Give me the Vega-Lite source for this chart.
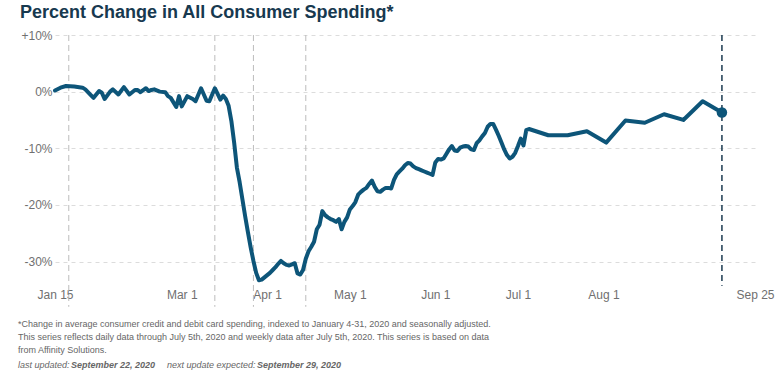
{
  "$schema": "https://vega.github.io/schema/vega-lite/v6.json",
  "background": "white",
  "padding": {"left": 3, "right": 5, "top": 4, "bottom": 0},
  "config": {
    "font": "Liberation Sans",
    "view": {"stroke": null},
    "axis": {"domain": false, "ticks": false, "labelColor": "#707070", "labelFontSize": 12, "labelFont": "Liberation Sans", "title": null},
    "title": {"font": "Liberation Sans"}
  },
  "datasets": {
    "spend": [
      {"date": "2020-01-15", "value": 0.2}, {"date": "2020-01-17", "value": 0.7}, {"date": "2020-01-19", "value": 1.0},
      {"date": "2020-01-22", "value": 0.9}, {"date": "2020-01-25", "value": 0.7}, {"date": "2020-01-26", "value": 0.4},
      {"date": "2020-01-28", "value": -0.6}, {"date": "2020-01-29", "value": -1.1}, {"date": "2020-01-31", "value": 0.1},
      {"date": "2020-02-01", "value": -0.2}, {"date": "2020-02-02", "value": -1.3}, {"date": "2020-02-04", "value": 0.0},
      {"date": "2020-02-05", "value": 0.4}, {"date": "2020-02-07", "value": -0.5}, {"date": "2020-02-09", "value": 0.8},
      {"date": "2020-02-11", "value": -0.5}, {"date": "2020-02-13", "value": 0.3}, {"date": "2020-02-14", "value": 0.3},
      {"date": "2020-02-15", "value": -0.1}, {"date": "2020-02-17", "value": 0.6}, {"date": "2020-02-18", "value": 0.1},
      {"date": "2020-02-19", "value": 0.3}, {"date": "2020-02-20", "value": 0.4}, {"date": "2020-02-22", "value": 0.0},
      {"date": "2020-02-24", "value": -0.1}, {"date": "2020-02-25", "value": -0.8}, {"date": "2020-02-26", "value": -1.1},
      {"date": "2020-02-28", "value": -2.7}, {"date": "2020-02-29", "value": -0.8}, {"date": "2020-03-01", "value": -2.6},
      {"date": "2020-03-03", "value": -0.8}, {"date": "2020-03-05", "value": -1.3}, {"date": "2020-03-06", "value": -1.7},
      {"date": "2020-03-08", "value": 0.6}, {"date": "2020-03-10", "value": -1.6}, {"date": "2020-03-11", "value": -1.7},
      {"date": "2020-03-13", "value": 0.6}, {"date": "2020-03-15", "value": -1.4}, {"date": "2020-03-16", "value": -0.7},
      {"date": "2020-03-17", "value": -1.3}, {"date": "2020-03-18", "value": -2.5}, {"date": "2020-03-19", "value": -5.2},
      {"date": "2020-03-20", "value": -9.0}, {"date": "2020-03-21", "value": -13.4}, {"date": "2020-03-22", "value": -16.0},
      {"date": "2020-03-23", "value": -19.0}, {"date": "2020-03-24", "value": -22.0}, {"date": "2020-03-25", "value": -24.8},
      {"date": "2020-03-26", "value": -27.5}, {"date": "2020-03-27", "value": -29.9}, {"date": "2020-03-28", "value": -32.0},
      {"date": "2020-03-29", "value": -33.3}, {"date": "2020-03-30", "value": -33.2}, {"date": "2020-03-31", "value": -32.8},
      {"date": "2020-04-01", "value": -32.4}, {"date": "2020-04-02", "value": -32.0}, {"date": "2020-04-03", "value": -31.5},
      {"date": "2020-04-04", "value": -31.0}, {"date": "2020-04-05", "value": -30.4}, {"date": "2020-04-06", "value": -29.9},
      {"date": "2020-04-07", "value": -30.3}, {"date": "2020-04-08", "value": -30.6}, {"date": "2020-04-09", "value": -30.7},
      {"date": "2020-04-10", "value": -30.5}, {"date": "2020-04-11", "value": -30.3}, {"date": "2020-04-12", "value": -32.1},
      {"date": "2020-04-13", "value": -32.3}, {"date": "2020-04-14", "value": -31.5}, {"date": "2020-04-15", "value": -29.5},
      {"date": "2020-04-16", "value": -28.2}, {"date": "2020-04-17", "value": -27.4}, {"date": "2020-04-18", "value": -26.5},
      {"date": "2020-04-19", "value": -24.3}, {"date": "2020-04-20", "value": -23.5}, {"date": "2020-04-21", "value": -21.1},
      {"date": "2020-04-22", "value": -21.8}, {"date": "2020-04-23", "value": -22.2}, {"date": "2020-04-24", "value": -22.5},
      {"date": "2020-04-25", "value": -22.7}, {"date": "2020-04-26", "value": -23.0}, {"date": "2020-04-27", "value": -22.5},
      {"date": "2020-04-28", "value": -24.3}, {"date": "2020-04-29", "value": -23.0}, {"date": "2020-04-30", "value": -22.2},
      {"date": "2020-05-01", "value": -20.8}, {"date": "2020-05-02", "value": -20.2}, {"date": "2020-05-03", "value": -19.5},
      {"date": "2020-05-04", "value": -18.2}, {"date": "2020-05-05", "value": -17.7}, {"date": "2020-05-06", "value": -17.3},
      {"date": "2020-05-07", "value": -17.0}, {"date": "2020-05-08", "value": -16.3}, {"date": "2020-05-09", "value": -15.7},
      {"date": "2020-05-10", "value": -16.8}, {"date": "2020-05-11", "value": -17.6}, {"date": "2020-05-12", "value": -17.7},
      {"date": "2020-05-13", "value": -17.3}, {"date": "2020-05-14", "value": -17.0}, {"date": "2020-05-15", "value": -17.0},
      {"date": "2020-05-16", "value": -17.1}, {"date": "2020-05-17", "value": -15.6}, {"date": "2020-05-18", "value": -14.6},
      {"date": "2020-05-19", "value": -14.1}, {"date": "2020-05-20", "value": -13.6}, {"date": "2020-05-21", "value": -13.0},
      {"date": "2020-05-22", "value": -12.6}, {"date": "2020-05-23", "value": -12.7}, {"date": "2020-05-24", "value": -13.2},
      {"date": "2020-05-25", "value": -13.5}, {"date": "2020-05-26", "value": -13.7}, {"date": "2020-05-27", "value": -13.9},
      {"date": "2020-05-28", "value": -14.1}, {"date": "2020-05-29", "value": -14.3}, {"date": "2020-05-30", "value": -14.5},
      {"date": "2020-05-31", "value": -14.7}, {"date": "2020-06-01", "value": -12.5}, {"date": "2020-06-02", "value": -11.9},
      {"date": "2020-06-03", "value": -12.0}, {"date": "2020-06-04", "value": -11.8}, {"date": "2020-06-05", "value": -11.0},
      {"date": "2020-06-06", "value": -10.2}, {"date": "2020-06-07", "value": -9.6}, {"date": "2020-06-08", "value": -10.4},
      {"date": "2020-06-09", "value": -10.5}, {"date": "2020-06-10", "value": -9.9}, {"date": "2020-06-11", "value": -9.7},
      {"date": "2020-06-12", "value": -9.6}, {"date": "2020-06-13", "value": -9.7}, {"date": "2020-06-14", "value": -10.2},
      {"date": "2020-06-15", "value": -10.3}, {"date": "2020-06-16", "value": -9.1}, {"date": "2020-06-17", "value": -8.6},
      {"date": "2020-06-18", "value": -7.9}, {"date": "2020-06-19", "value": -7.3}, {"date": "2020-06-20", "value": -6.2},
      {"date": "2020-06-21", "value": -5.7}, {"date": "2020-06-22", "value": -5.7}, {"date": "2020-06-23", "value": -6.7},
      {"date": "2020-06-24", "value": -7.8}, {"date": "2020-06-25", "value": -9.0}, {"date": "2020-06-26", "value": -10.2},
      {"date": "2020-06-27", "value": -11.2}, {"date": "2020-06-28", "value": -11.8}, {"date": "2020-06-29", "value": -11.5},
      {"date": "2020-06-30", "value": -10.8}, {"date": "2020-07-01", "value": -9.6}, {"date": "2020-07-02", "value": -8.3},
      {"date": "2020-07-03", "value": -9.5}, {"date": "2020-07-04", "value": -6.8}, {"date": "2020-07-05", "value": -6.6},
      {"date": "2020-07-12", "value": -7.7}, {"date": "2020-07-19", "value": -7.7}, {"date": "2020-07-26", "value": -7.0},
      {"date": "2020-08-02", "value": -9.0}, {"date": "2020-08-09", "value": -5.1}, {"date": "2020-08-16", "value": -5.5},
      {"date": "2020-08-23", "value": -4.0}, {"date": "2020-08-30", "value": -5.0}, {"date": "2020-09-06", "value": -1.7},
      {"date": "2020-09-13", "value": -3.7}
    ],
    "events": [
      {"date": "2020-01-20"}, {"date": "2020-03-13"}, {"date": "2020-03-27"}, {"date": "2020-04-15"}
    ],
    "latest": [
      {"date": "2020-09-13", "value": -3.7}
    ]
  },
  "spacing": 12,
  "vconcat": [
    {
      "title": {"text": "Percent Change in All Consumer Spending*", "fontSize": 18, "fontWeight": "bold", "color": "#17394f", "anchor": "start", "frame": "bounds", "dx": 17, "offset": 7},
      "width": 700,
      "height": 252,
      "layer": [
        {
          "data": {"name": "events"},
          "mark": {"type": "rule", "color": "#bdbdbd", "strokeWidth": 1, "strokeDash": [6, 4]},
          "encoding": {
            "x": {"field": "date", "type": "temporal",
              "scale": {"type": "utc", "domain": [{"year": 2020, "month": 1, "date": 15, "utc": true}, {"year": 2020, "month": 9, "date": 25, "utc": true}]},
              "axis": {"values": [
                {"year": 2020, "month": 1, "date": 15, "utc": true},
                {"year": 2020, "month": 3, "date": 1, "utc": true},
                {"year": 2020, "month": 4, "date": 1, "utc": true},
                {"year": 2020, "month": 5, "date": 1, "utc": true},
                {"year": 2020, "month": 6, "date": 1, "utc": true},
                {"year": 2020, "month": 7, "date": 1, "utc": true},
                {"year": 2020, "month": 8, "date": 1, "utc": true},
                {"year": 2020, "month": 9, "date": 25, "utc": true}
              ], "labelExpr": "utcFormat(datum.value, '%b %-d')", "labelPadding": 2, "grid": false, "labelFlush": false, "labelOverlap": false, "title": null}},
            "y": {"datum": 10, "type": "quantitative",
              "scale": {"domain": [-34.5, 10], "nice": false, "zero": false},
              "axis": {"values": [-30, -20, -10, 0, 10], "labelExpr": "datum.value > 0 ? '+' + datum.value + '%' : datum.value + '%'", "grid": true, "gridDash": [4, 4], "gridColor": "#dcdcdc", "labelPadding": 3, "minExtent": 52, "maxExtent": 52, "title": null}},
            "y2": {"datum": -38}
          }
        },
        {
          "data": {"name": "spend"},
          "mark": {"type": "line", "color": "#0d5579", "strokeWidth": 4, "strokeJoin": "round", "strokeCap": "round"},
          "encoding": {
            "x": {"field": "date", "type": "temporal"},
            "y": {"field": "value", "type": "quantitative"}
          }
        },
        {
          "data": {"name": "latest"},
          "mark": {"type": "rule", "color": "#1b3a50", "strokeWidth": 1.5, "strokeDash": [6, 4]},
          "encoding": {
            "x": {"field": "date", "type": "temporal"},
            "y": {"datum": 10, "type": "quantitative"},
            "y2": {"datum": -34.3}
          }
        },
        {
          "data": {"name": "latest"},
          "mark": {"type": "point", "filled": true, "opacity": 1, "size": 110, "color": "#0d5579"},
          "encoding": {
            "x": {"field": "date", "type": "temporal"},
            "y": {"field": "value", "type": "quantitative"}
          }
        }
      ]
    },
    {
      "spacing": 0,
      "vconcat": [
        {
          "width": 700,
          "height": 1,
          "data": {"values": []},
          "mark": "text",
          "title": {
            "text": [
              "*Change in average consumer credit and debit card spending, indexed to January 4-31, 2020 and seasonally adjusted.",
              "This series reflects daily data through July 5th, 2020 and weekly data after July 5th, 2020. This series is based on data",
              "from Affinity Solutions."
            ],
            "fontSize": 9, "fontWeight": "normal", "color": "#666666", "anchor": "start", "frame": "bounds", "dx": -37, "lineHeight": 13, "offset": 5
          }
        },
        {
          "spacing": 1,
          "hconcat": [
            {"width": 1, "height": 1, "data": {"values": []}, "mark": "text",
             "title": {"text": "last updated:", "fontSize": 9, "fontWeight": "normal", "fontStyle": "italic", "color": "#666666", "anchor": "start", "frame": "bounds", "dx": -37}},
            {"width": 1, "height": 1, "data": {"values": []}, "mark": "text",
             "title": {"text": "September 22, 2020", "fontSize": 9, "fontWeight": "bold", "fontStyle": "italic", "color": "#666666", "anchor": "start", "frame": "bounds"}},
            {"width": 1, "height": 1, "data": {"values": []}, "mark": "text",
             "title": {"text": "next update expected:", "fontSize": 9, "fontWeight": "normal", "fontStyle": "italic", "color": "#666666", "anchor": "start", "frame": "bounds", "dx": 10}},
            {"width": 1, "height": 1, "data": {"values": []}, "mark": "text",
             "title": {"text": "September 29, 2020", "fontSize": 9, "fontWeight": "bold", "fontStyle": "italic", "color": "#666666", "anchor": "start", "frame": "bounds"}}
          ]
        }
      ]
    }
  ]
}
